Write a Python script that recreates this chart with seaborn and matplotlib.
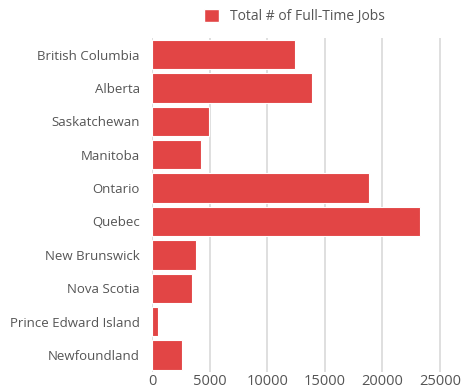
import matplotlib
matplotlib.use("Agg")
import matplotlib.pyplot as plt
import seaborn as sns
import pandas as pd
from matplotlib.patches import Patch

provinces = ["British Columbia", "Alberta", "Saskatchewan", "Manitoba", "Ontario",
             "Quebec", "New Brunswick", "Nova Scotia", "Prince Edward Island", "Newfoundland"]
jobs = [12450, 13850, 4950, 4250, 18850, 23270, 3800, 3500, 500, 2620]
series_name = "Total # of Full-Time Jobs"
xticks = [0, 5000, 10000, 15000, 20000, 25000]

df = pd.DataFrame({"Province": provinces, "Jobs": jobs})

sns.set_theme(style="white")
plt.rcParams['font.family'] = ['Open Sans', 'DejaVu Sans']

color = "#e24545"
text_color = "#555555"

fig = plt.figure(figsize=(4.64, 3.92), dpi=100)
ax = fig.add_axes([0.328, 0.052, 0.652, 0.851])
sns.barplot(data=df, x="Jobs", y="Province", color=color, saturation=1,
            width=0.88, edgecolor="white", linewidth=0.8, ax=ax, zorder=3)
ax.set_xlim(0, 26300)
ax.set_ylim(9.5, -0.5)
ax.set_xticks(xticks)
ax.set_xticklabels([str(t) for t in xticks])
ax.grid(axis="x", color="#d9d9d9", linewidth=1.2, zorder=0)
ax.set_axisbelow(True)
for s in ax.spines.values():
    s.set_visible(False)
ax.set_xlabel("")
ax.set_ylabel("")
ax.tick_params(axis="y", length=0, labelsize=9.5, colors=text_color, pad=9)
ax.tick_params(axis="x", length=0, labelsize=10.5, colors=text_color, pad=2)

handle = Patch(facecolor=color, edgecolor="white", label=series_name)
fig.legend(handles=[handle], loc="upper center", bbox_to_anchor=(0.635, 1.01),
           frameon=False, fontsize=10, labelcolor=text_color,
           handlelength=1.1, handleheight=1.1, handletextpad=0.8)

fig.savefig("out.png", dpi=100)
